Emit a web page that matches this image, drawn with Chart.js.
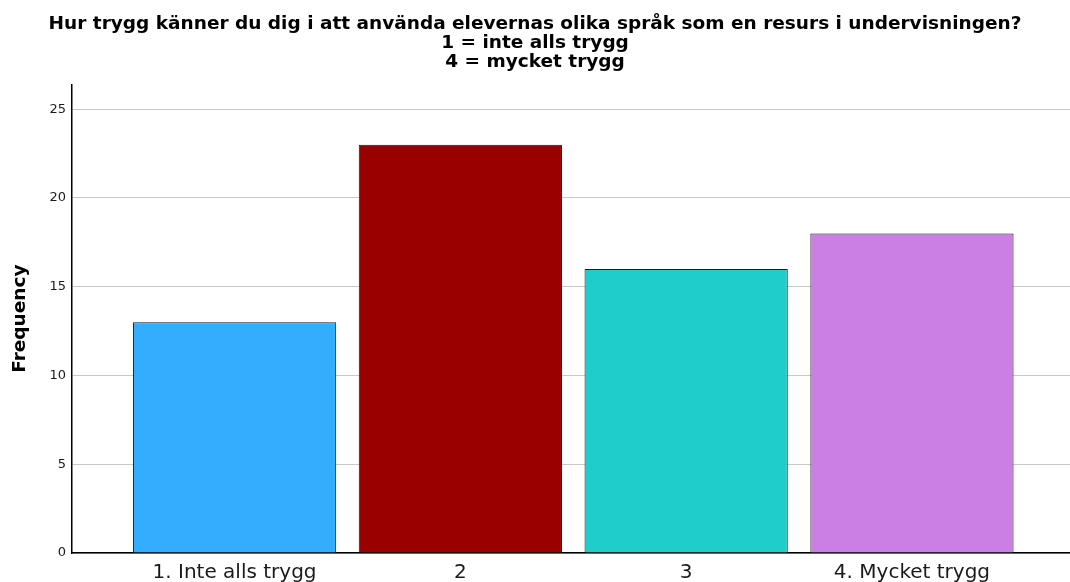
<!DOCTYPE html>
<html>
<head>
<meta charset="utf-8">
<script src="https://cdn.jsdelivr.net/npm/chart.js@4"></script>
<style>
    html, body { margin: 0; padding: 0; background: #fff; }
    #wrap { width: 1070px; height: 582px; }
</style>
</head>
<body>
<div id="wrap"><canvas id="freqChart"></canvas></div>
<script>
// Chart data
const categories = ['1. Inte alls trygg', '2', '3', '4. Mycket trygg'];
const frequencies = [13, 23, 16, 18];
const barColors = ['#33adff', '#990000', '#1fcecb', '#cb7fe5'];
const titleLines = [
    'Hur trygg känner du dig i att använda elevernas olika språk som en resurs i undervisningen?',
    '1 = inte alls trygg',
    '4 = mycket trygg'
];
const yAxisTitle = 'Frequency';

// Bars sit on a numeric axis (1..4) so the outer padding can match the original
const points = frequencies.map((v, i) => ({ x: i + 1, y: v }));

const fontFamily = '"DejaVu Sans", sans-serif';

new Chart(document.getElementById('freqChart'), {
    type: 'bar',
    data: {
        datasets: [{
            data: points,
            backgroundColor: barColors,
            borderColor: '#1a1a1a',
            borderWidth: 1,
            barPercentage: 0.9,
            categoryPercentage: 1
        }]
    },
    options: {
        responsive: true,
        maintainAspectRatio: false,
        animation: false,
        layout: { padding: 0 },
        plugins: {
            legend: { display: false },
            tooltip: { enabled: false },
            title: {
                display: true,
                text: titleLines,
                color: '#000',
                font: { family: fontFamily, size: 18.5, weight: 'bold', lineHeight: 1.05 },
                padding: { top: 14, bottom: 12 }
            }
        },
        scales: {
            x: {
                type: 'linear',
                min: 0.28,
                max: 4.70,
                offset: false,
                grid: { display: false, drawTicks: false, offset: false },
                border: { display: true, color: '#000', width: 1.5 },
                afterBuildTicks: (scale) => {
                    scale.ticks = categories.map((c, i) => ({ value: i + 1 }));
                },
                afterFit: (scale) => { scale.height = 29; },
                ticks: {
                    autoSkip: false,
                    maxRotation: 0,
                    padding: 10,
                    color: '#1a1a1a',
                    font: { family: fontFamily, size: 20, lineHeight: 1 },
                    callback: (value) => categories[value - 1]
                }
            },
            y: {
                min: 0,
                max: 26.4,
                grid: { color: '#c8c8c8', lineWidth: 1, drawTicks: false },
                border: { display: true, color: '#000', width: 1.5 },
                afterFit: (scale) => { scale.width = 72; },
                ticks: {
                    stepSize: 5,
                    includeBounds: false,
                    padding: 6,
                    color: '#1a1a1a',
                    font: { family: fontFamily, size: 13 }
                },
                title: {
                    display: true,
                    text: yAxisTitle,
                    color: '#000',
                    font: { family: fontFamily, size: 18.5, weight: 'bold' },
                    padding: { top: 9, bottom: 12 }
                }
            }
        }
    }
});
</script>
</body>
</html>
